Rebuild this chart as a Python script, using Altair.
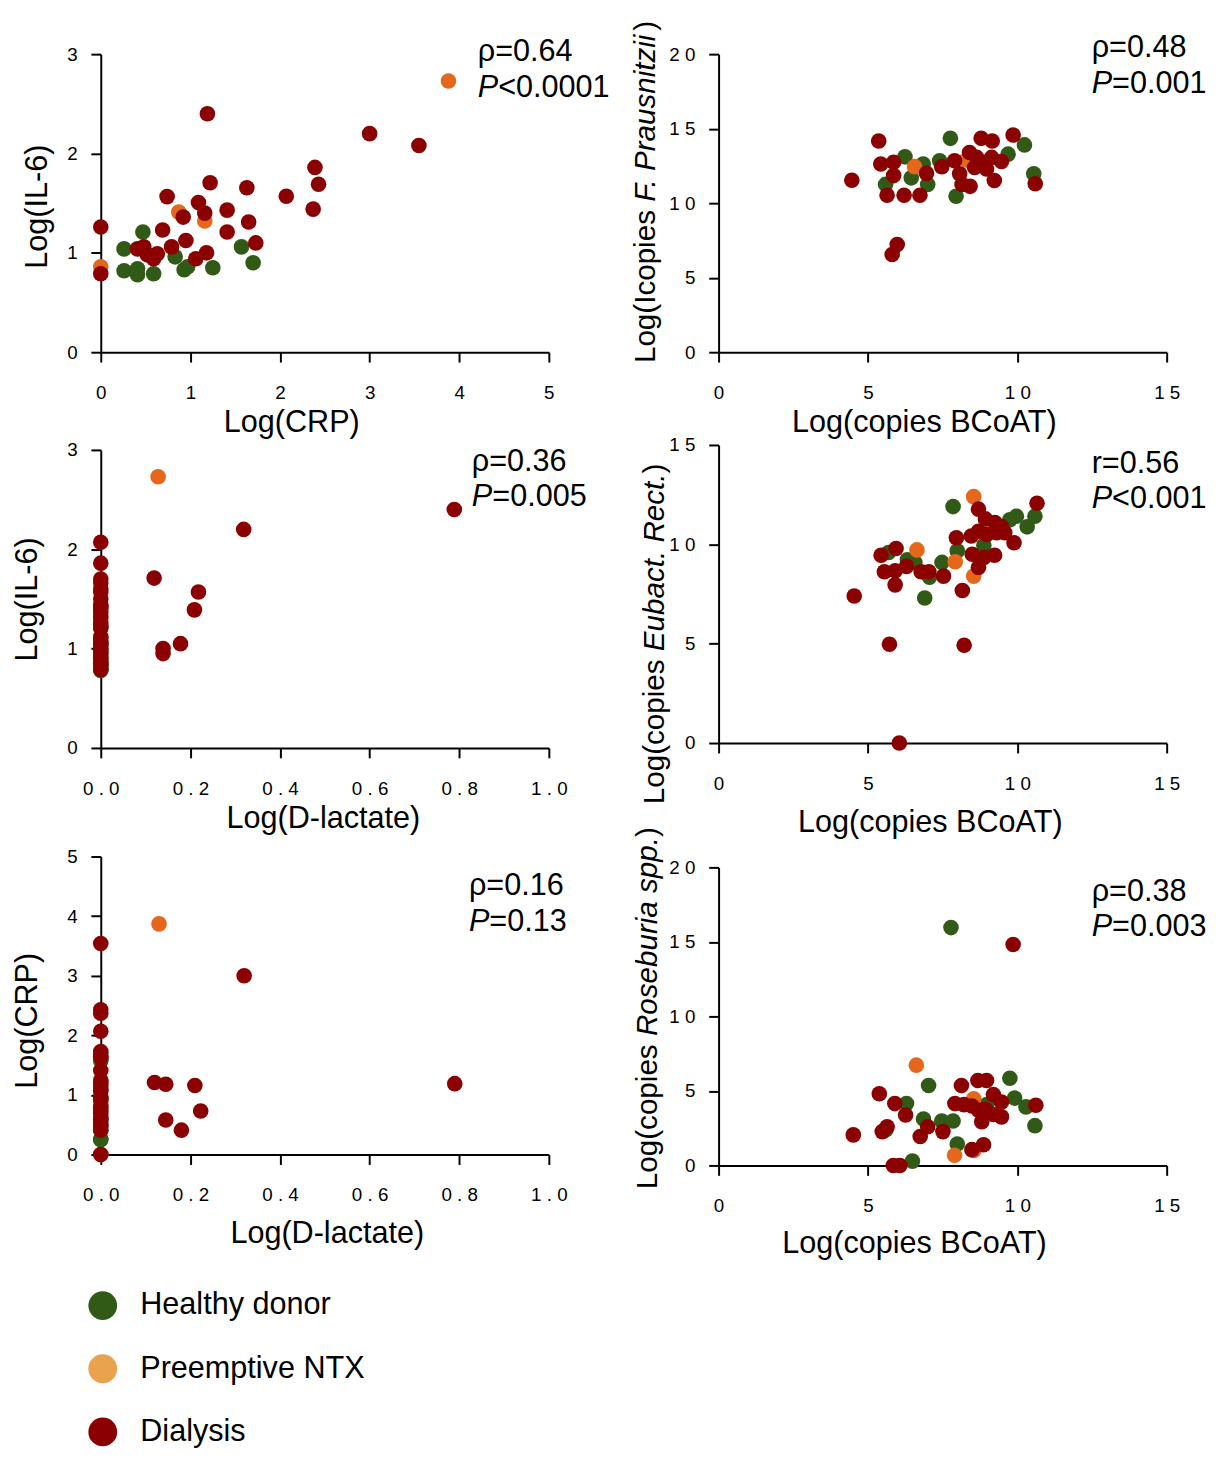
import altair as alt
import pandas as pd

GROUPS = ["Healthy donor", "Preemptive NTX", "Dialysis"]
POINT_COLORS = ["#325A17", "#E4671C", "#8B0000"]
LEGEND_COLORS = ["#325A17", "#E9A34F", "#8B0000"]

# ---- Panel A: Log(CRP) vs Log(IL-6)
a_hd_x = [0.47, 1.57, 0.26, 0.83, 1.70, 0.26, 0.41, 0.41, 0.59, 0.93, 0.97, 1.25]
a_hd_y = [1.21, 1.06, 1.04, 0.96, 0.90, 0.82, 0.84, 0.78, 0.79, 0.83, 0.86, 0.85]
a_pn_x = [0.87, 1.16, 0.0, 3.88]
a_pn_y = [1.41, 1.32, 0.86, 2.73]
a_di_x = [1.22, 1.63, 0.74, 1.09, 2.07, 1.41, 1.16, 0.92, 0.0, 1.65, 1.41, 0.69, 0.95, 1.73,
          0.41, 0.48, 0.52, 0.63, 0.59, 0.79, 1.18, 1.06, 0.0, 1.19, 3.0, 3.55, 2.39, 2.43, 2.37]
a_di_y = [1.705, 1.655, 1.566, 1.506, 1.57, 1.43, 1.40, 1.36, 1.26, 1.31, 1.21, 1.23, 1.125, 1.10,
          1.04, 1.06, 0.98, 0.99, 0.94, 1.06, 1.00, 0.94, 0.79, 2.40, 2.20, 2.08, 1.86, 1.69, 1.44]

# ---- Panel B: Log(copies BCoAT) vs Log(copies F. prausnitzii)
b_hd_x = [6.24, 5.59, 6.85, 6.45, 7.0, 7.40, 7.76, 7.95, 10.24, 9.69, 10.55]
b_hd_y = [13.11, 11.26, 12.63, 11.70, 11.26, 12.85, 14.35, 10.46, 13.91, 13.29, 11.97]
b_pn_x = [6.56, 8.30]
b_pn_y = [12.45, 12.90]
b_di_x = [4.46, 5.36, 5.43, 5.86, 5.86, 5.64, 6.21, 6.74, 6.96, 7.47, 7.90, 8.07, 8.15, 8.42,
          8.40, 8.79, 9.16, 8.64, 8.86, 9.14, 9.47, 8.97, 9.23, 9.86, 10.60, 8.57, 5.81, 5.98]
b_di_y = [11.54, 14.17, 12.63, 12.74, 11.85, 10.53, 10.53, 10.53, 12.0, 12.45, 12.85, 11.97, 11.26, 11.13,
          13.40, 14.35, 14.17, 13.07, 12.52, 13.07, 12.80, 12.30, 11.52, 14.57, 11.30, 12.40, 6.56, 7.22]

# ---- Panel C: Log(D-lactate) vs Log(IL-6)
c_hd_x = [0.0, 0.0, 0.0, 0.0, 0.0, 0.0, 0.0, 0.0, 0.0, 0.0, 0.0, 0.0]
c_hd_y = [1.21, 1.06, 1.04, 0.96, 0.90, 0.82, 0.84, 0.78, 0.79, 0.83, 0.86, 0.85]
c_pn_x = [0.0, 0.0, 0.0, 0.128]
c_pn_y = [1.41, 1.32, 0.86, 2.73]
c_di_x = [0.0, 0.0, 0.0, 0.0, 0.0, 0.0, 0.0, 0.0, 0.0, 0.0, 0.0, 0.0, 0.0, 0.0, 0.0, 0.0,
          0.0, 0.0, 0.0, 0.0, 0.0, 0.0, 0.0, 0.0, 0.0,
          0.789, 0.319, 0.119, 0.218, 0.209, 0.178, 0.139, 0.139]
c_di_y = [2.07, 1.86, 1.70, 1.66, 1.60, 1.57, 1.50, 1.44, 1.43, 1.40, 1.36, 1.31, 1.26, 1.23, 1.21, 1.12,
          1.10, 1.06, 1.04, 1.00, 0.98, 0.94, 0.90, 0.85, 0.79,
          2.40, 2.20, 1.71, 1.57, 1.39, 1.05, 1.00, 0.95]

# ---- Panel D: Log(copies BCoAT) vs Log(copies Eubact. Rect.)
d_hd_x = [5.69, 6.32, 6.57, 7.06, 7.48, 6.90, 7.99, 7.85, 8.88, 9.97, 9.75, 10.33, 10.59]
d_hd_y = [9.59, 9.22, 9.09, 8.35, 9.09, 7.30, 9.67, 11.9, 9.95, 11.41, 11.24, 10.88, 11.41]
d_pn_x = [6.64, 7.92, 8.54, 8.54]
d_pn_y = [9.72, 9.12, 12.4, 8.40]
d_di_x = [4.54, 5.44, 5.94, 5.55, 5.91, 6.29, 5.91, 6.78, 7.04, 7.53, 7.96, 8.16, 8.70, 8.70, 8.49,
          8.88, 9.24, 8.46, 8.70, 8.98, 8.93, 9.25, 9.47, 9.58, 9.31, 9.89, 10.66, 5.72, 8.22, 6.05]
d_di_y = [7.40, 9.45, 9.79, 8.62, 8.67, 8.89, 7.96, 8.62, 8.62, 8.40, 10.33, 7.68, 11.77, 8.84, 9.50,
          9.34, 9.45, 10.42, 10.66, 10.50, 11.28, 11.10, 10.90, 10.58, 10.58, 10.08, 12.07, 4.97, 4.92, 0.0]

# ---- Panel E: Log(D-lactate) vs Log(CRP)
e_hd_x = [0.0, 0.0, 0.0, 0.0, 0.0, 0.0, 0.0, 0.0, 0.0, 0.0, 0.0, 0.0]
e_hd_y = [0.25, 1.60, 0.47, 0.26, 0.41, 0.83, 1.57, 1.70, 0.59, 0.93, 0.97, 1.25]
e_pn_x = [0.0, 0.0, 0.0, 0.13]
e_pn_y = [0.87, 1.21, 0.0, 3.87]
e_di_x = [0.0, 0.0, 0.0, 0.0, 0.0, 0.0, 0.0, 0.0, 0.0, 0.0, 0.0, 0.0, 0.0, 0.0, 0.0, 0.0, 0.0,
          0.0, 0.0, 0.0, 0.0, 0.0, 0.0,
          0.32, 0.79, 0.12, 0.145, 0.21, 0.223, 0.145, 0.18]
e_di_y = [3.54, 2.43, 2.37, 2.07, 1.73, 1.65, 1.63, 1.41, 1.22, 1.16, 1.09, 1.06, 0.95, 0.92, 0.79, 0.74, 0.69,
          0.63, 0.59, 0.52, 0.48, 0.41, 0.0,
          3.0, 1.19, 1.21, 1.18, 1.16, 0.73, 0.58, 0.41]

# ---- Panel F: Log(copies BCoAT) vs Log(copies Roseburia spp.)
f_hd_x = [6.29, 6.49, 7.03, 6.86, 7.47, 7.85, 7.99, 9.75, 8.98, 9.91, 10.29, 10.59, 7.78, 5.60]
f_hd_y = [4.15, 0.29, 5.36, 3.11, 2.98, 2.98, 1.44, 5.85, 4.08, 4.52, 3.93, 2.67, 15.96, 2.40]
f_pn_x = [6.62, 7.90, 8.54, 8.55]
f_pn_y = [6.73, 0.68, 4.48, 1.00]
f_di_x = [4.51, 5.38, 5.90, 6.26, 5.48, 5.64, 5.85, 6.07, 7.0, 6.75, 7.51, 8.13, 8.48, 8.87, 8.68,
          8.97, 7.91, 8.21, 8.48, 8.70, 8.93, 9.20, 9.47, 8.81, 9.20, 9.47, 8.90, 10.62, 9.86]
f_di_y = [2.05, 4.81, 4.15, 3.38, 2.27, 2.60, 0.0, 0.0, 2.60, 1.94, 2.27, 5.36, 1.06, 1.39, 5.70,
          5.70, 4.15, 4.08, 3.99, 3.71, 3.77, 4.75, 4.26, 2.93, 3.42, 3.26, 3.50, 4.04, 14.83]

STAT_LABELS = ["ρ=0.64", "ρ=0.48", "ρ=0.36", "r=0.56", "ρ=0.16", "ρ=0.38"]
P_LABELS = ["<0.0001", "=0.001", "=0.005", "<0.001", "=0.13", "=0.003"]

FONT = "Liberation Sans"
FS = 31       # horizontal texts, axis titles, legend
RFS = 30      # rotated mixed-style y titles
LFS = 19      # tick labels
PT_SIZE = 250
W, H = 454, 302
SPACED = "join(split(datum.label, ''), ' ')"


def table(hx, hy, px, py, dx, dy):
    rows = []
    for g, c, xs, ys in zip(GROUPS, POINT_COLORS, [hx, px, dx], [hy, py, dy]):
        for x, y in zip(xs, ys):
            rows.append({"x": x, "y": y, "g": g, "c": c})
    return pd.DataFrame(rows)


def txt(s, x, y, italic=False, angle=0, size=FS):
    return alt.Chart(pd.DataFrame({"t": [s]})).mark_text(
        font=FONT, fontSize=size, fontStyle="italic" if italic else "normal",
        align="left", baseline="middle", angle=angle, color="black"
    ).encode(text="t:N", x=alt.value(x), y=alt.value(y))


def rotated_title(segments, x, y0):
    layers = []
    pos = y0
    for s, italic, em in segments:
        layers.append(txt(s, x, pos, italic=italic, angle=270, size=RFS))
        pos -= em * RFS
    return layers


def spacer(h):
    return alt.Chart(pd.DataFrame({"s": [0]})).mark_point(opacity=0).encode(
        x=alt.value(0), y=alt.value(0)).properties(width=1, height=h)


def panel(df, xdom, xvals, xfmt, xtitle, xtx, xty, ydom, yvals, ytitle, ytx, yty,
          idx, ax, ay, extra=()):
    yaxis_kw = dict(values=yvals, format="d", labelExpr=SPACED)
    if ytitle:
        yaxis_kw.update(title=ytitle, titleX=ytx, titleY=yty)
    else:
        yaxis_kw.update(title=None)
    pts = alt.Chart(df).mark_circle(size=PT_SIZE, opacity=1).encode(
        x=alt.X("x:Q", scale=alt.Scale(domain=xdom, nice=False, zero=False),
                axis=alt.Axis(values=xvals, format=xfmt, labelExpr=SPACED,
                              title=xtitle, titleX=xtx, titleY=xty)),
        y=alt.Y("y:Q", scale=alt.Scale(domain=ydom, nice=False, zero=False),
                axis=alt.Axis(**yaxis_kw)),
        color=alt.Color("c:N", scale=None),
    )
    layers = [pts,
              txt(STAT_LABELS[idx], ax, ay),
              txt("P", ax, ay + 36, italic=True),
              txt(P_LABELS[idx], ax + 0.667 * FS, ay + 36)]
    layers += list(extra)
    return alt.layer(*layers).properties(width=W, height=H)


x5 = [0, 1, 2, 3, 4, 5]
x15 = [0, 5, 10, 15]
x1 = [0, 0.2, 0.4, 0.6, 0.8, 1.0]

pA = panel(table(a_hd_x, a_hd_y, a_pn_x, a_pn_y, a_di_x, a_di_y),
           [0, 5], x5, "d", "Log(CRP)", 193, 71,
           [0, 3], [0, 1, 2, 3], "Log(IL-6)", -64, 154, 0, 382, -2)
pB = panel(table(b_hd_x, b_hd_y, b_pn_x, b_pn_y, b_di_x, b_di_y),
           [0, 15], x15, "d", "Log(copies BCoAT)", 208, 71,
           [0, 20], [0, 5, 10, 15, 20], None, 0, 0, 1, 378, -6,
           extra=rotated_title([("Log(Icopies", False, 5.447),
                                ("F. Prausnitzii", True, 5.779),
                                (")", False, 0.333)], -73, 313))
pC = panel(table(c_hd_x, c_hd_y, c_pn_x, c_pn_y, c_di_x, c_di_y),
           [0, 1], x1, ".1f", "Log(D-lactate)", 225, 72,
           [0, 3], [0, 1, 2, 3], "Log(IL-6)", -74, 151, 2, 376, 12)
pD = panel(table(d_hd_x, d_hd_y, d_pn_x, d_pn_y, d_di_x, d_di_y),
           [0, 15], x15, "d", "Log(copies BCoAT)", 214, 81,
           [0, 15], [0, 5, 10, 15], None, 0, 0, 3, 378, 19,
           extra=rotated_title([("Log(copies", False, 5.169),
                                ("Eubact. Rect.", True, 6.003),
                                (")", False, 0.333)], -64, 364))
pE = panel(table(e_hd_x, e_hd_y, e_pn_x, e_pn_y, e_di_x, e_di_y),
           [0, 1], x1, ".1f", "Log(D-lactate)", 229, 80,
           [0, 5], [0, 1, 2, 3, 4, 5], "Log(CRP)", -74, 166, 4, 373, 30)
pF = panel(table(f_hd_x, f_hd_y, f_pn_x, f_pn_y, f_di_x, f_di_y),
           [0, 15], x15, "d", "Log(copies BCoAT)", 198, 79,
           [0, 20], [0, 5, 10, 15, 20], None, 0, 0, 5, 378, 25,
           extra=rotated_title([("Log(copies", False, 5.169),
                                ("Roseburia spp.", True, 6.725),
                                (")", False, 0.333)], -71, 326))

leg_df = pd.DataFrame({"g": GROUPS, "c": LEGEND_COLORS})
leg_y = alt.Y("g:N", scale=alt.Scale(domain=GROUPS), axis=None)
leg_pts = alt.Chart(leg_df).mark_circle(size=850, opacity=1).encode(
    x=alt.value(2), y=leg_y, color=alt.Color("c:N", scale=None))
leg_txt = alt.Chart(leg_df).mark_text(
    align="left", baseline="middle", font=FONT, fontSize=FS, color="black"
).encode(x=alt.value(40), y=leg_y, text="g:N")
legend = alt.layer(leg_pts, leg_txt).properties(width=300, height=192)

col1 = alt.vconcat(pA, spacer(99), pC, spacer(110), pE, spacer(121), legend,
                   spacing=0, bounds="flush")
col2 = alt.vconcat(pB, spacer(94), pD, spacer(126), pF, spacing=0, bounds="flush")

# nested concat groups count as zero width under flush bounds, so the
# spacing covers the left column's plot width (454) plus the gap (172)
chart = alt.hconcat(col1, col2, spacing=626, bounds="flush").properties(
    padding={"left": 4, "top": 3, "right": 10, "bottom": 10}
).configure_view(stroke=None).configure_axis(
    grid=False, domainColor="black", domainWidth=2, tickColor="black", tickWidth=2,
    tickSize=10, labelFont=FONT, labelFontSize=LFS, labelColor="black",
    labelFlush=False, labelOverlap=False,
    titleFont=FONT, titleFontSize=FS, titleFontWeight="normal", titleColor="black",
    titleBaseline="middle"
).configure_axisX(labelPadding=31, labelBaseline="middle").configure_axisY(labelPadding=14)

chart.save("out.html", embed_options={"renderer": "svg", "actions": False})
